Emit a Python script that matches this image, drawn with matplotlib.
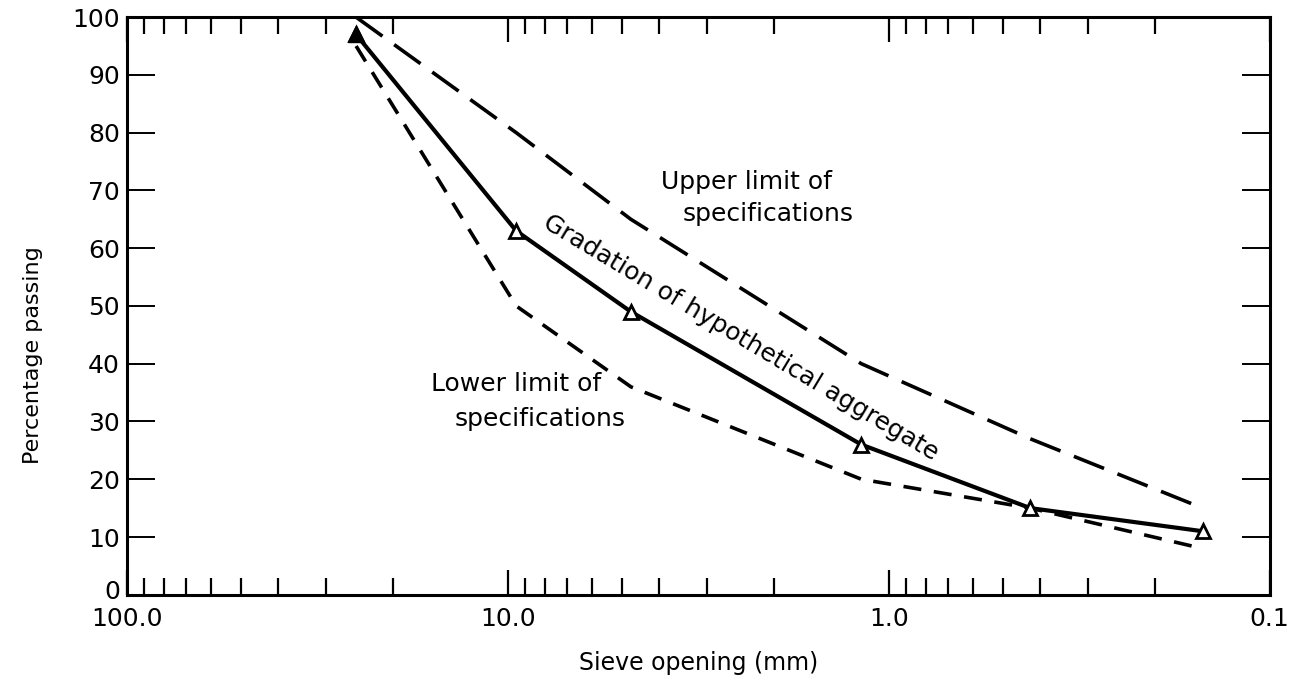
import matplotlib as mpl
import matplotlib.pyplot as plt
import matplotlib.transforms as mtransforms
from matplotlib.ticker import FixedLocator, LogLocator, NullFormatter

mpl.rcParams['font.family'] = ['DejaVu Sans']

# 체 눈 크기(mm)와 통과율(%)
sieve = [25.0, 9.5, 4.75, 1.18, 0.425, 0.15]
gradation = [97, 63, 49, 26, 15, 11]
upper = [100, 80, 65, 40, 27, 15]
lower = [95, 50, 36, 20, 15, 8]

x_ticks = [100, 10, 1, 0.1]
x_labels = ['100.0', '10.0', '1.0', '0.1']
y_ticks = [0, 10, 20, 30, 40, 50, 60, 70, 80, 90, 100]

fig = plt.figure(figsize=(12.93, 6.86), dpi=100)
ax = fig.add_axes([0.098, 0.133, 0.884, 0.842])

ax.plot(sieve, upper, color='black', lw=2.6, dashes=(9, 4))
ax.plot(sieve, lower, color='black', lw=2.6, dashes=(5, 3.5))
ax.plot(sieve, gradation, color='black', lw=3.0, marker='^', ms=10,
        markerfacecolor='white', markeredgecolor='black', markeredgewidth=2)
ax.plot(sieve[0], gradation[0], marker='^', ms=11, color='black')

ax.set_xscale('log')
ax.set_xlim(100, 0.1)
ax.set_ylim(0, 100)

ax.xaxis.set_major_locator(FixedLocator(x_ticks))
ax.set_xticklabels(x_labels)
ax.xaxis.set_minor_locator(LogLocator(base=10, subs=range(2, 10)))
ax.xaxis.set_minor_formatter(NullFormatter())
ax.set_yticks(y_ticks)

ax.tick_params(axis='x', which='major', direction='in', top=True, bottom=True,
               length=18, width=1.6, labelsize=18, pad=9)
ax.tick_params(axis='x', which='minor', direction='in', top=True, bottom=True,
               length=12, width=1.6)
ax.tick_params(axis='y', which='major', direction='in', left=True, right=True,
               length=20, width=1.4, labelsize=18, pad=5)

# '0' 눈금 글자만 살짝 위로
up = mtransforms.ScaledTranslation(0, 4 / 72, fig.dpi_scale_trans)
lab0 = ax.get_yticklabels()[0]
lab0.set_transform(lab0.get_transform() + up)

for s in ax.spines.values():
    s.set_linewidth(2.2)

ax.set_xlabel('Sieve opening (mm)', fontsize=17, labelpad=14)
ax.set_ylabel('Percentage passing', fontsize=16)
ax.yaxis.set_label_coords(-0.073, 0.415)

# 그래프 안 설명 글
ax.text(2.36, 71.5, 'Upper limit of', fontsize=18, ha='center', va='center')
ax.text(2.07, 66.0, 'specifications', fontsize=18, ha='center', va='center')
ax.text(9.5, 36.5, 'Lower limit of', fontsize=18, ha='center', va='center')
ax.text(8.2, 30.4, 'specifications', fontsize=18, ha='center', va='center')
ax.text(2.45, 44.5, 'Gradation of hypothetical aggregate', fontsize=18,
        ha='center', va='center', rotation=-30.9, rotation_mode='anchor')

fig.savefig('out.png', dpi=100)
